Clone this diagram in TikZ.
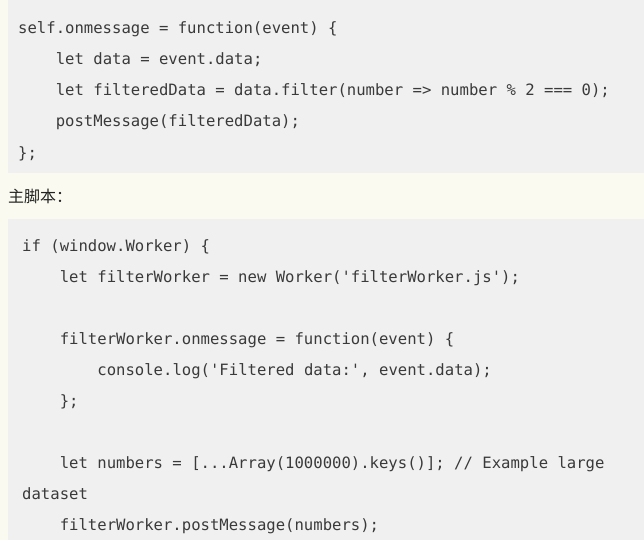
\documentclass[tikz,border=0pt]{standalone}
\usepackage{fontspec}
\setmonofont{DejaVu Sans Mono}
\newfontfamily\cjkfont{Noto Sans CJK SC}
\definecolor{pagebg}{HTML}{FAFAF0}
\definecolor{codebg}{HTML}{F0F0F0}
\definecolor{codefg}{HTML}{3A3A3A}
\definecolor{labelfg}{HTML}{222222}
\begin{document}
\begin{tikzpicture}[x=1pt,y=-1pt,
  codeline/.style={anchor=base west, inner sep=0pt, font=\ttfamily\fontsize{15.6}{18}\selectfont, text=codefg},
  heading/.style={anchor=base west, inner sep=0pt, font=\cjkfont\fontsize{16}{19}\selectfont, text=labelfg},
  codeblock/.style={fill=codebg, draw=none}]
\useasboundingbox (0,0) rectangle (644,540);
\fill[pagebg] (0,0) rectangle (644,540);
\fill[codeblock] (8,0) rectangle (644,173);
\fill[codeblock] (7.5,219) rectangle (644,540);

% worker script
\node[codeline] (w1) at (18,33.3) {self.onmessage = function(event) \{};
\node[codeline] (w2) at (55.6,64.5) {let data = event.data;};
\node[codeline] (w3) at (55.6,95.7) {let filteredData = data.filter(number => number \% 2 === 0);};
\node[codeline] (w4) at (55.6,127) {postMessage(filteredData);};
\node[codeline] (w5) at (18,158.3) {\};};

% heading
\node[heading] (h) at (8,202) {主脚本：};

% main script
\node[codeline] (m1) at (22,251.5) {if (window.Worker) \{};
\node[codeline] (m2) at (59.6,282.5) {let filterWorker = new Worker('filterWorker.js');};
\node[codeline] (m3) at (59.6,344.5) {filterWorker.onmessage = function(event) \{};
\node[codeline] (m4) at (97.2,375.5) {console.log('Filtered data:', event.data);};
\node[codeline] (m5) at (59.6,406.5) {\};};
\node[codeline] (m6) at (59.6,468.5) {let numbers = [...Array(1000000).keys()]; // Example large};
\node[codeline] (m7) at (22,499.5) {dataset};
\node[codeline] (m8) at (59.6,530.5) {filterWorker.postMessage(numbers);};
\end{tikzpicture}
\end{document}
